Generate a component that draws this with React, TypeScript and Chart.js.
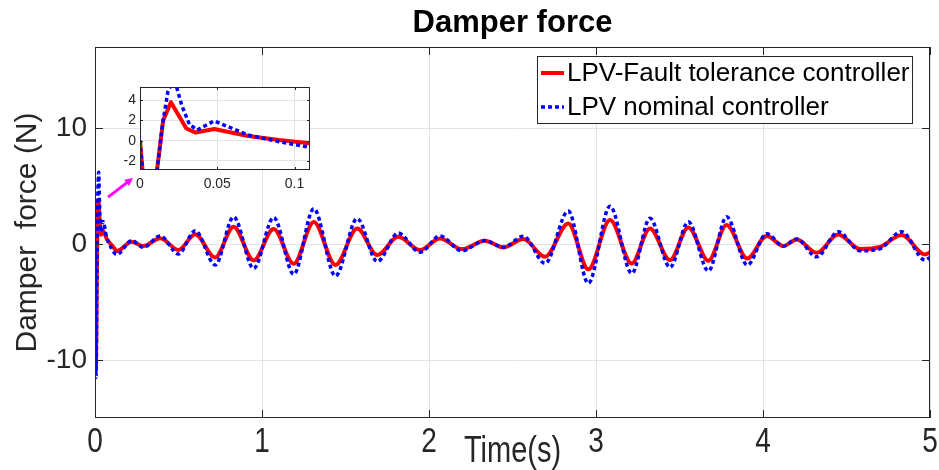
import React, { useEffect, useRef } from "react";
import { Chart, registerables } from "chart.js";

Chart.register(...registerables);

// ---------- data ----------
const titleText = "Damper force";
const xTitle = "Time(s)";
const yTitle = "Damper  force (N)";
const seriesLabels = ["LPV-Fault tolerance controller", "LPV nominal controller"];

const xTicks = [0, 1, 2, 3, 4, 5];
const yTicks = [-10, 0, 10];
const insetXTicks = [0, 0.05, 0.1];
const insetYTicks = [-2, 0, 2, 4];

// LPV fault tolerant controller (red)
const redT = [
  0, 0.006, 0.011, 0.015, 0.02, 0.03, 0.036, 0.048, 0.07, 0.09, 0.11, 0.13,
  0.22, 0.29, 0.39, 0.5, 0.6, 0.72, 0.83, 0.95, 1.07, 1.19, 1.31, 1.44, 1.57,
  1.69, 1.816, 1.946, 2.066, 2.196, 2.335, 2.445, 2.565, 2.695, 2.834, 2.954,
  3.084, 3.214, 3.323, 3.443, 3.553, 3.673, 3.782, 3.906, 4.022, 4.122, 4.202,
  4.321, 4.451, 4.581, 4.7, 4.83, 4.97, 5.0,
];
const redV = [
  0, -10.6, -2.9, 2.0, 3.8, 1.2, 0.8, 1.15, 0.46, 0.07, -0.25, -0.6,
  0.2, -0.17, 0.5, -0.5, 0.84, -1.15, 1.5, -1.4, 1.3, -1.7, 1.9, -1.8, 1.35,
  -0.95, 0.63, -0.52, 0.49, -0.43, 0.29, -0.29, 0.43, -1.09, 1.78, -2.18,
  2.07, -1.67, 1.35, -1.38, 1.44, -1.44, 1.64, -1.24, 0.69, -0.17, 0.4,
  -0.75, 0.83, -0.43, -0.25, 0.78, -0.89, -0.7,
];

// LPV nominal controller (blue)
const blueT = [
  0, 0.006, 0.011, 0.0145, 0.018, 0.022, 0.027, 0.032, 0.037, 0.048, 0.07, 0.09,
  0.11, 0.13, 0.22, 0.29, 0.39, 0.5, 0.6, 0.72, 0.83, 0.95, 1.07, 1.19, 1.31,
  1.44, 1.57, 1.69, 1.816, 1.946, 2.066, 2.196, 2.335, 2.445, 2.565, 2.695,
  2.834, 2.954, 3.084, 3.214, 3.323, 3.443, 3.553, 3.673, 3.782, 3.906, 4.022,
  4.122, 4.202, 4.321, 4.451, 4.581, 4.7, 4.83, 4.97, 5.0,
];
const blueV = [
  0, -11.5, -3.0, 1.5, 4.8, 6.2, 3.5, 1.6, 1.05, 1.95, 0.55, -0.1,
  -0.65, -0.9, 0.3, -0.28, 0.7, -0.85, 1.15, -1.8, 2.35, -2.1, 2.3, -2.6, 3.05,
  -2.75, 2.2, -1.5, 0.95, -0.7, 0.7, -0.58, 0.3, -0.27, 0.68, -1.66,
  2.85, -3.38, 3.27, -2.52, 2.22, -2.0, 1.92, -2.32, 2.35, -1.8, 0.9,
  -0.17, 0.45, -1.1, 1.07, -0.58, -0.4, 1.07, -1.38, -1.15,
];

// annotation arrow (main-axes data coordinates)
const arrowFrom = { x: 0.078, y: 4.05 };
const arrowTo = { x: 0.228, y: 5.7 };

// ---------- styles ----------
const FONT = '"Liberation Sans", Arial, Helvetica, sans-serif';
const AXIS_COLOR = "#262626";
const GRID_COLOR = "#e3e3e3";
const RED = "#ff0000";
const BLUE = "#0000ff";
const X_LABEL_STRETCH = 1.25;

const pts = (t: number[], v: number[]) => t.map((x, i) => ({ x, y: v[i] }));

const zeroPad = (s: any) => {
  s.paddingLeft = 0;
  s.paddingRight = 0;
  s.paddingTop = 0;
  s.paddingBottom = 0;
};

const decorPlugin = {
  id: "decor",
  afterDraw(chart: any) {
    const { ctx, chartArea: a, scales } = chart;
    const xs = scales.x;
    const ys = scales.y;
    ctx.save();
    // box
    ctx.strokeStyle = AXIS_COLOR;
    ctx.lineWidth = 1;
    ctx.strokeRect(a.left + 0.5, a.top + 0.5, a.right - a.left - 1, a.bottom - a.top - 1);
    // inward ticks
    ctx.beginPath();
    xTicks.forEach((v) => {
      const px = Math.round(xs.getPixelForValue(v)) + 0.5;
      ctx.moveTo(px, a.bottom);
      ctx.lineTo(px, a.bottom - 8);
      ctx.moveTo(px, a.top);
      ctx.lineTo(px, a.top + 8);
    });
    yTicks.forEach((v) => {
      const py = Math.round(ys.getPixelForValue(v)) + 0.5;
      ctx.moveTo(a.left, py);
      ctx.lineTo(a.left + 8, py);
      ctx.moveTo(a.right, py);
      ctx.lineTo(a.right - 8, py);
    });
    ctx.stroke();

    // x tick labels (slightly tall, as in the source figure)
    ctx.fillStyle = AXIS_COLOR;
    ctx.font = `28px ${FONT}`;
    ctx.textAlign = "center";
    ctx.textBaseline = "middle";
    xs.ticks.forEach((t: any) => {
      ctx.save();
      ctx.translate(xs.getPixelForValue(t.value), a.bottom + 24);
      ctx.scale(1, X_LABEL_STRETCH);
      ctx.fillText(String(t.value), 0, 0);
      ctx.restore();
    });

    const cx = (a.left + a.right) / 2;
    // title
    ctx.fillStyle = "#000";
    ctx.font = `bold 31px ${FONT}`;
    ctx.textAlign = "center";
    ctx.textBaseline = "alphabetic";
    ctx.fillText(titleText, cx, 32);
    // x title
    ctx.fillStyle = AXIS_COLOR;
    ctx.font = `29px ${FONT}`;
    ctx.save();
    ctx.translate(cx, 462);
    ctx.scale(1, X_LABEL_STRETCH);
    ctx.fillText(xTitle, 0, 0);
    ctx.restore();
    // y title
    ctx.font = `30px ${FONT}`;
    ctx.save();
    ctx.translate(28, (a.top + a.bottom) / 2);
    ctx.rotate(-Math.PI / 2);
    ctx.textBaseline = "middle";
    ctx.fillText(yTitle, 0, 0);
    ctx.restore();

    // legend
    const lx = 537, ly = 56, lw = 375, lh = 67;
    ctx.fillStyle = "#fff";
    ctx.fillRect(lx, ly, lw, lh);
    ctx.strokeStyle = AXIS_COLOR;
    ctx.lineWidth = 1;
    ctx.strokeRect(lx + 0.5, ly + 0.5, lw, lh);
    const rows = [73, 107];
    chart.data.datasets.forEach((ds: any, i: number) => {
      const y = rows[i];
      ctx.beginPath();
      ctx.strokeStyle = ds.borderColor;
      ctx.lineWidth = ds.borderWidth;
      ctx.setLineDash(ds.borderDash || []);
      ctx.moveTo(541, y);
      ctx.lineTo(564, y);
      ctx.stroke();
      ctx.setLineDash([]);
      ctx.fillStyle = "#000";
      ctx.font = `26px ${FONT}`;
      ctx.textAlign = "left";
      ctx.textBaseline = "middle";
      ctx.fillText(ds.label, 567, y + 1);
    });

    // arrow
    const x0 = xs.getPixelForValue(arrowFrom.x), y0 = ys.getPixelForValue(arrowFrom.y);
    const x1 = xs.getPixelForValue(arrowTo.x), y1 = ys.getPixelForValue(arrowTo.y);
    const ang = Math.atan2(y1 - y0, x1 - x0);
    const hl = 9;
    ctx.strokeStyle = "#ff00ff";
    ctx.fillStyle = "#ff00ff";
    ctx.lineWidth = 3;
    ctx.beginPath();
    ctx.moveTo(x0, y0);
    ctx.lineTo(x1 - Math.cos(ang) * hl * 0.8, y1 - Math.sin(ang) * hl * 0.8);
    ctx.stroke();
    ctx.beginPath();
    ctx.moveTo(x1, y1);
    ctx.lineTo(x1 - hl * Math.cos(ang - 0.45), y1 - hl * Math.sin(ang - 0.45));
    ctx.lineTo(x1 - hl * Math.cos(ang + 0.45), y1 - hl * Math.sin(ang + 0.45));
    ctx.closePath();
    ctx.fill();
    ctx.restore();
  },
};

const insetPlugin = {
  id: "insetDecor",
  beforeDraw(chart: any) {
    const { ctx, chartArea: a } = chart;
    ctx.save();
    ctx.fillStyle = "#fff";
    ctx.fillRect(a.left, a.top, a.right - a.left, a.bottom - a.top);
    ctx.restore();
  },
  afterDraw(chart: any) {
    const { ctx, chartArea: a, scales } = chart;
    ctx.save();
    ctx.strokeStyle = AXIS_COLOR;
    ctx.lineWidth = 1;
    ctx.strokeRect(a.left + 0.5, a.top + 0.5, a.right - a.left - 1, a.bottom - a.top - 1);
    ctx.beginPath();
    insetXTicks.forEach((v) => {
      const px = Math.round(scales.x.getPixelForValue(v)) + 0.5;
      ctx.moveTo(px, a.bottom);
      ctx.lineTo(px, a.bottom - 3);
      ctx.moveTo(px, a.top);
      ctx.lineTo(px, a.top + 3);
    });
    insetYTicks.forEach((v) => {
      const py = Math.round(scales.y.getPixelForValue(v)) + 0.5;
      ctx.moveTo(a.left, py);
      ctx.lineTo(a.left + 3, py);
      ctx.moveTo(a.right, py);
      ctx.lineTo(a.right - 3, py);
    });
    ctx.stroke();
    ctx.restore();
  },
};

export default function App() {
  const mainRef = useRef<HTMLCanvasElement>(null);
  const insetRef = useRef<HTMLCanvasElement>(null);

  useEffect(() => {
    const mkDatasets = (tension: number) => [
      {
        label: seriesLabels[0],
        data: pts(redT, redV),
        borderColor: RED,
        borderWidth: 4,
        pointRadius: 0,
        fill: false,
        order: 2,
        tension,
        cubicInterpolationMode: tension ? "monotone" : "default",
        borderJoinStyle: "round",
      },
      {
        label: seriesLabels[1],
        data: pts(blueT, blueV),
        borderColor: BLUE,
        borderWidth: 3.5,
        borderDash: [4, 3],
        pointRadius: 0,
        fill: false,
        order: 1,
        tension,
        cubicInterpolationMode: tension ? "monotone" : "default",
      },
    ];

    const main = new Chart(mainRef.current!, {
      type: "line",
      data: { datasets: mkDatasets(0.4) as any },
      options: {
        responsive: false,
        animation: false,
        devicePixelRatio: 1,
        events: [],
        layout: { padding: { left: 0, top: 47, right: 9, bottom: 0 } },
        plugins: { legend: { display: false }, title: { display: false }, tooltip: { enabled: false } },
        scales: {
          x: {
            type: "linear",
            min: 0,
            max: 5,
            afterBuildTicks: (s: any) => {
              s.ticks = xTicks.map((v) => ({ value: v }));
            },
            afterFit: (s: any) => {
              s.height = 52;
              zeroPad(s);
            },
            grid: { color: GRID_COLOR, drawTicks: false, lineWidth: 1 },
            border: { display: false },
            ticks: { display: false },
          },
          y: {
            type: "linear",
            min: -15,
            max: 17,
            afterBuildTicks: (s: any) => {
              s.ticks = yTicks.map((v) => ({ value: v }));
            },
            afterFit: (s: any) => {
              s.width = 95;
              zeroPad(s);
            },
            grid: { color: GRID_COLOR, drawTicks: false, lineWidth: 1 },
            border: { display: false },
            ticks: {
              font: { family: FONT, size: 28 },
              color: AXIS_COLOR,
              padding: 8,
              callback: (v: any) => String(v),
            },
          },
        },
      },
      plugins: [decorPlugin],
    });

    const inset = new Chart(insetRef.current!, {
      type: "line",
      data: { datasets: mkDatasets(0) as any },
      options: {
        responsive: false,
        animation: false,
        devicePixelRatio: 1,
        events: [],
        layout: { padding: { left: 0, top: 9, right: 10, bottom: 0 } },
        plugins: { legend: { display: false }, title: { display: false }, tooltip: { enabled: false } },
        scales: {
          x: {
            type: "linear",
            min: 0,
            max: 0.11,
            afterBuildTicks: (s: any) => {
              s.ticks = insetXTicks.map((v) => ({ value: v }));
            },
            afterFit: (s: any) => {
              s.height = 23;
              zeroPad(s);
            },
            grid: { color: GRID_COLOR, drawTicks: false },
            border: { display: false },
            ticks: {
              font: { family: FONT, size: 14 },
              color: AXIS_COLOR,
              padding: 6,
              maxRotation: 0,
              autoSkip: false,
              callback: (v: any) => String(v),
            },
          },
          y: {
            type: "linear",
            min: -2.9,
            max: 5.3,
            afterBuildTicks: (s: any) => {
              s.ticks = insetYTicks.map((v) => ({ value: v }));
            },
            afterFit: (s: any) => {
              s.width = 40;
              zeroPad(s);
            },
            grid: { color: GRID_COLOR, drawTicks: false },
            border: { display: false },
            ticks: {
              font: { family: FONT, size: 14 },
              color: AXIS_COLOR,
              padding: 4,
              callback: (v: any) => String(v),
            },
          },
        },
      },
      plugins: [insetPlugin],
    });

    return () => {
      main.destroy();
      inset.destroy();
    };
  }, []);

  return (
    <div style={{ position: "absolute", left: 0, top: 0, width: 939, height: 470, background: "#fff" }}>
      <canvas ref={mainRef} width={939} height={470} style={{ position: "absolute", left: 0, top: 0 }} />
      <canvas ref={insetRef} width={220} height={115} style={{ position: "absolute", left: 100, top: 78 }} />
    </div>
  );
}
